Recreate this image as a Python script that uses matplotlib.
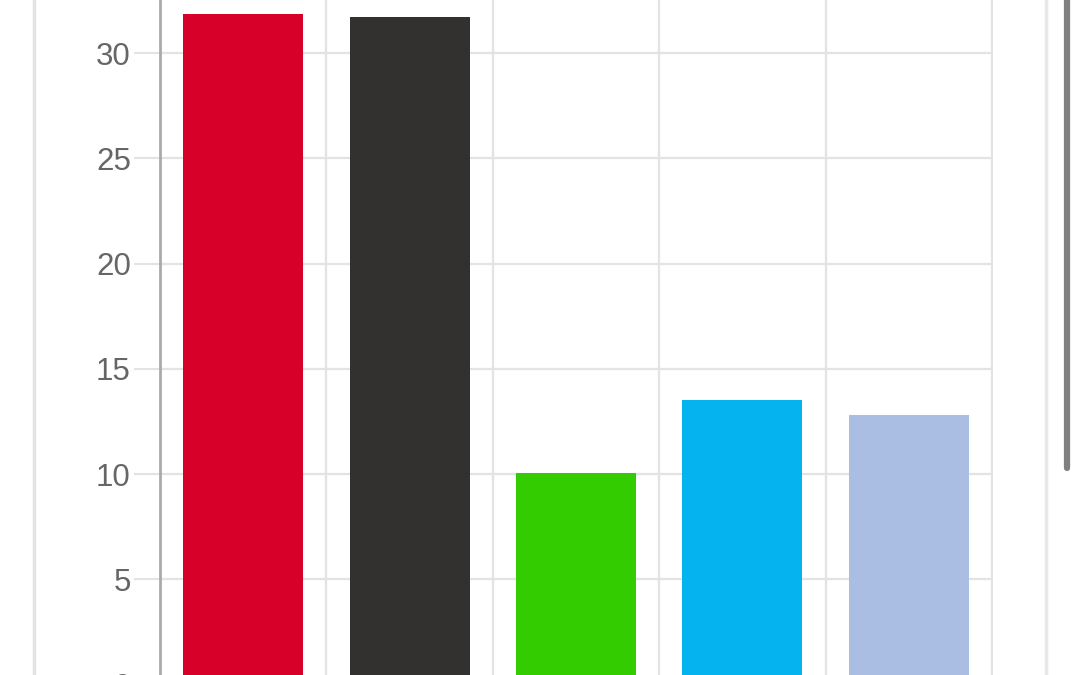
import matplotlib.pyplot as plt
from matplotlib.lines import Line2D

# Data
categories = ["A", "B", "C", "D", "E"]
values = [31.85, 31.7, 10.05, 13.5, 12.8]
colors = ["#D60028", "#323130", "#33CC00", "#05B3EE", "#AABDE3"]
yticks = [0, 5, 10, 15, 20, 25, 30]

plt.rcParams["font.family"] = ["Liberation Sans", "DejaVu Sans"]

fig = plt.figure(figsize=(10.8, 6.75), dpi=100)
fig.patch.set_facecolor("white")

# axes runs past the bottom/top of the figure (cropped screenshot)
ax = fig.add_axes([160 / 1080, -9.5 / 675, 833 / 1080, 694.6 / 675])
ax.bar(range(len(values)), values, width=0.72, color=colors, zorder=3)
ax.set_xlim(-0.5, len(values) - 0.5 + 0.006)
ax.set_ylim(0, 33)

ax.set_yticks(yticks)
ax.set_xticks([i + 0.5 for i in range(len(values))])
ax.set_xticklabels([])
ax.tick_params(axis="x", length=0)
ax.tick_params(axis="y", length=19, width=1.5, color="#e3e3e3",
               labelsize=22.5, labelcolor="#666666", pad=2)
ax.grid(True, color="#e3e3e3", linewidth=1.6, zorder=0)

for s in ["top", "right", "bottom"]:
    ax.spines[s].set_visible(False)
ax.spines["left"].set_color("#aaaaaa")
ax.spines["left"].set_linewidth(2)

# card border and scrollbar of the phone screen
fig.add_artist(Line2D([34 / 1080, 34 / 1080], [0, 1], color="#e3e3e3", lw=2.5))
fig.add_artist(Line2D([1046 / 1080, 1046 / 1080], [0, 1], color="#e8e8e8", lw=2.5))
fig.add_artist(Line2D([1067 / 1080, 1067 / 1080], [1, 207 / 675], color="#808080",
                      lw=4.5, solid_capstyle="round"))

fig.savefig("out.png", dpi=100)
